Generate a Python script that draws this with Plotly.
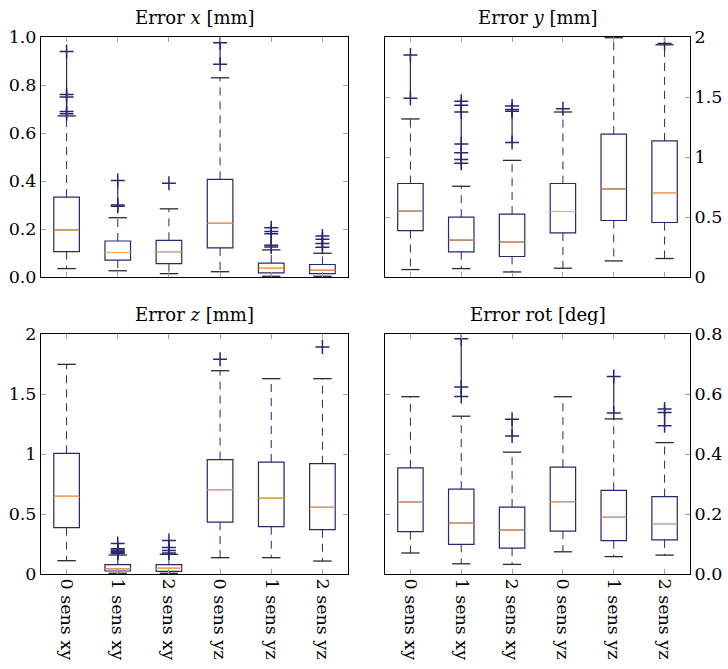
import plotly.graph_objects as go

categories = ["0 sens xy", "1 sens xy", "2 sens xy", "0 sens yz", "1 sens yz", "2 sens yz"]
positions = [0, 1, 2, 3, 4, 5]

# Error x [mm]
x_lo = [0.035, 0.026, 0.014, 0.022, 0.003, 0.003]
x_q1 = [0.106, 0.070, 0.056, 0.121, 0.017, 0.014]
x_med = [0.195, 0.102, 0.106, 0.224, 0.036, 0.028]
x_q3 = [0.333, 0.150, 0.153, 0.407, 0.058, 0.052]
x_hi = [0.671, 0.247, 0.284, 0.830, 0.113, 0.099]
x_out = [[0.68, 0.69, 0.75, 0.76, 0.94],
         [0.295, 0.30, 0.402],
         [0.391],
         [0.886, 0.976],
         [0.125, 0.132, 0.18, 0.19, 0.205],
         [0.124, 0.140, 0.157, 0.171]]

# Error y [mm]
y_lo = [0.062, 0.070, 0.042, 0.073, 0.134, 0.154]
y_q1 = [0.387, 0.210, 0.171, 0.367, 0.471, 0.454]
y_med = [0.549, 0.308, 0.291, 0.546, 0.734, 0.703]
y_q3 = [0.779, 0.499, 0.524, 0.779, 1.190, 1.134]
y_hi = [1.317, 0.756, 0.972, 1.375, 1.994, 1.935]
y_out = [[1.49, 1.85],
         [0.947, 0.98, 1.036, 1.109, 1.375, 1.431, 1.465],
         [1.12, 1.381, 1.395, 1.426],
         [1.403],
         [],
         [1.945]]

# Error z [mm]
z_lo = [0.111, 0.006, 0.006, 0.136, 0.136, 0.108]
z_q1 = [0.386, 0.025, 0.022, 0.433, 0.394, 0.369]
z_med = [0.647, 0.044, 0.047, 0.703, 0.631, 0.556]
z_q3 = [1.006, 0.078, 0.078, 0.953, 0.933, 0.919]
z_hi = [1.747, 0.158, 0.164, 1.694, 1.628, 1.628]
z_out = [[],
         [0.17, 0.18, 0.19, 0.20, 0.21, 0.255],
         [0.175, 0.195, 0.22, 0.28],
         [1.789],
         [],
         [1.892]]

# Error rot [deg]
r_lo = [0.070, 0.034, 0.032, 0.074, 0.058, 0.063]
r_q1 = [0.141, 0.099, 0.086, 0.143, 0.111, 0.114]
r_med = [0.240, 0.170, 0.146, 0.241, 0.189, 0.168]
r_q3 = [0.354, 0.283, 0.223, 0.356, 0.279, 0.258]
r_hi = [0.591, 0.526, 0.406, 0.591, 0.517, 0.438]
r_out = [[],
         [0.592, 0.623, 0.784],
         [0.46, 0.516],
         [],
         [0.537, 0.658],
         [0.494, 0.538, 0.55]]

panels = [
    ("Error <i>x</i> [mm]", x_lo, x_q1, x_med, x_q3, x_hi, x_out),
    ("Error <i>y</i> [mm]", y_lo, y_q1, y_med, y_q3, y_hi, y_out),
    ("Error <i>z</i> [mm]", z_lo, z_q1, z_med, z_q3, z_hi, z_out),
    ("Error rot [deg]", r_lo, r_q1, r_med, r_q3, r_hi, r_out),
]

W, H = 728, 669
FONT = "DejaVu Serif"
FS = 17.5
NAVY = "#262673"
ORANGE = "#ffaa55"
CAP = "#2a2a2a"
TICKC = "#a0a0a0"

# pixel boxes of the four plot areas (left, right, top, bottom)
areas = [(41, 348, 37, 277), (385, 690, 37, 277), (41, 348, 334, 574), (385, 690, 334, 574)]
yranges = [[0, 1.0], [0, 2], [0, 2], [0, 0.8]]
ydticks = [0.2, 0.5, 0.5, 0.2]
yfmt = [".1f", "", "", ".1f"]

fig = go.Figure()
half = 0.25
caph = 0.18
layout = {}
for k, (title, lo, q1, med, q3, hi, outs) in enumerate(panels):
    sfx = "" if k == 0 else str(k + 1)
    xa, ya = "x" + sfx, "y" + sfx
    fig.add_trace(go.Box(x=positions, q1=q1, median=med, q3=q3, lowerfence=q1, upperfence=q3,
                         width=0.5, whiskerwidth=0, fillcolor="rgba(0,0,0,0)",
                         line=dict(color=NAVY, width=1.2), boxpoints=False,
                         xaxis=xa, yaxis=ya, showlegend=False, hoverinfo="skip"))
    mx, my, wx, wy, cx, cy = [], [], [], [], [], []
    for i in positions:
        mx += [i - half, i + half, None]
        my += [med[i], med[i], None]
        wx += [i, i, None, i, i, None]
        wy += [q1[i], lo[i], None, q3[i], hi[i], None]
        cx += [i - caph, i + caph, None, i - caph, i + caph, None]
        cy += [lo[i], lo[i], None, hi[i], hi[i], None]
    fig.add_trace(go.Scatter(x=wx, y=wy, mode="lines", line=dict(color=NAVY, width=1, dash="8px,6px"),
                             xaxis=xa, yaxis=ya, showlegend=False, hoverinfo="skip"))
    fig.add_trace(go.Scatter(x=cx, y=cy, mode="lines", line=dict(color=CAP, width=1.3),
                             xaxis=xa, yaxis=ya, showlegend=False, hoverinfo="skip"))
    fig.add_trace(go.Scatter(x=mx, y=my, mode="lines", line=dict(color=ORANGE, width=1.2),
                             xaxis=xa, yaxis=ya, showlegend=False, hoverinfo="skip"))
    for i in positions:
        if outs[i]:
            fig.add_trace(go.Scatter(x=[i] * len(outs[i]), y=outs[i], mode="lines+markers",
                                     line=dict(color=NAVY, width=1.2),
                                     marker=dict(symbol="cross-thin", size=10,
                                                 line=dict(color=NAVY, width=1.5)),
                                     xaxis=xa, yaxis=ya, showlegend=False, hoverinfo="skip"))
    l, r, t, b = areas[k]
    xdom = [l / W, r / W]
    ydom = [1 - b / H, 1 - t / H]
    bottom = k >= 2
    layout["xaxis" + sfx] = dict(domain=xdom, anchor=ya, range=[-0.5, 5.5], automargin=False,
                                 tickvals=positions, ticktext=categories,
                                 showticklabels=bottom, tickangle=90,
                                 ticks="inside", ticklen=5, tickcolor=TICKC, tickwidth=1,
                                 showline=True, linecolor="black", linewidth=1, mirror="allticks",
                                 showgrid=False, zeroline=False,
                                 tickfont=dict(family=FONT, size=FS, color="black"))
    layout["yaxis" + sfx] = dict(domain=ydom, anchor=xa, range=yranges[k], dtick=ydticks[k],
                                 tick0=0, tickformat=yfmt[k], automargin=False,
                                 side="right" if k % 2 == 1 else "left",
                                 ticks="inside", ticklen=5, tickcolor=TICKC, tickwidth=1,
                                 showline=True, linecolor="black", linewidth=1, mirror="allticks",
                                 showgrid=False, zeroline=False,
                                 tickfont=dict(family=FONT, size=FS, color="black"))
    fig.add_annotation(text=title, xref="paper", yref="paper", x=(xdom[0] + xdom[1]) / 2,
                       y=ydom[1], yshift=20, xanchor="center", yanchor="middle", showarrow=False,
                       font=dict(family=FONT, size=18, color="black"))

fig.update_layout(width=W, height=H, margin=dict(l=0, r=0, t=0, b=0),
                  paper_bgcolor="white", plot_bgcolor="white", **layout)
fig.write_html("out.html", config={"displayModeBar": False},
               post_script="document.body.style.margin='0';document.body.style.overflow='hidden';")
